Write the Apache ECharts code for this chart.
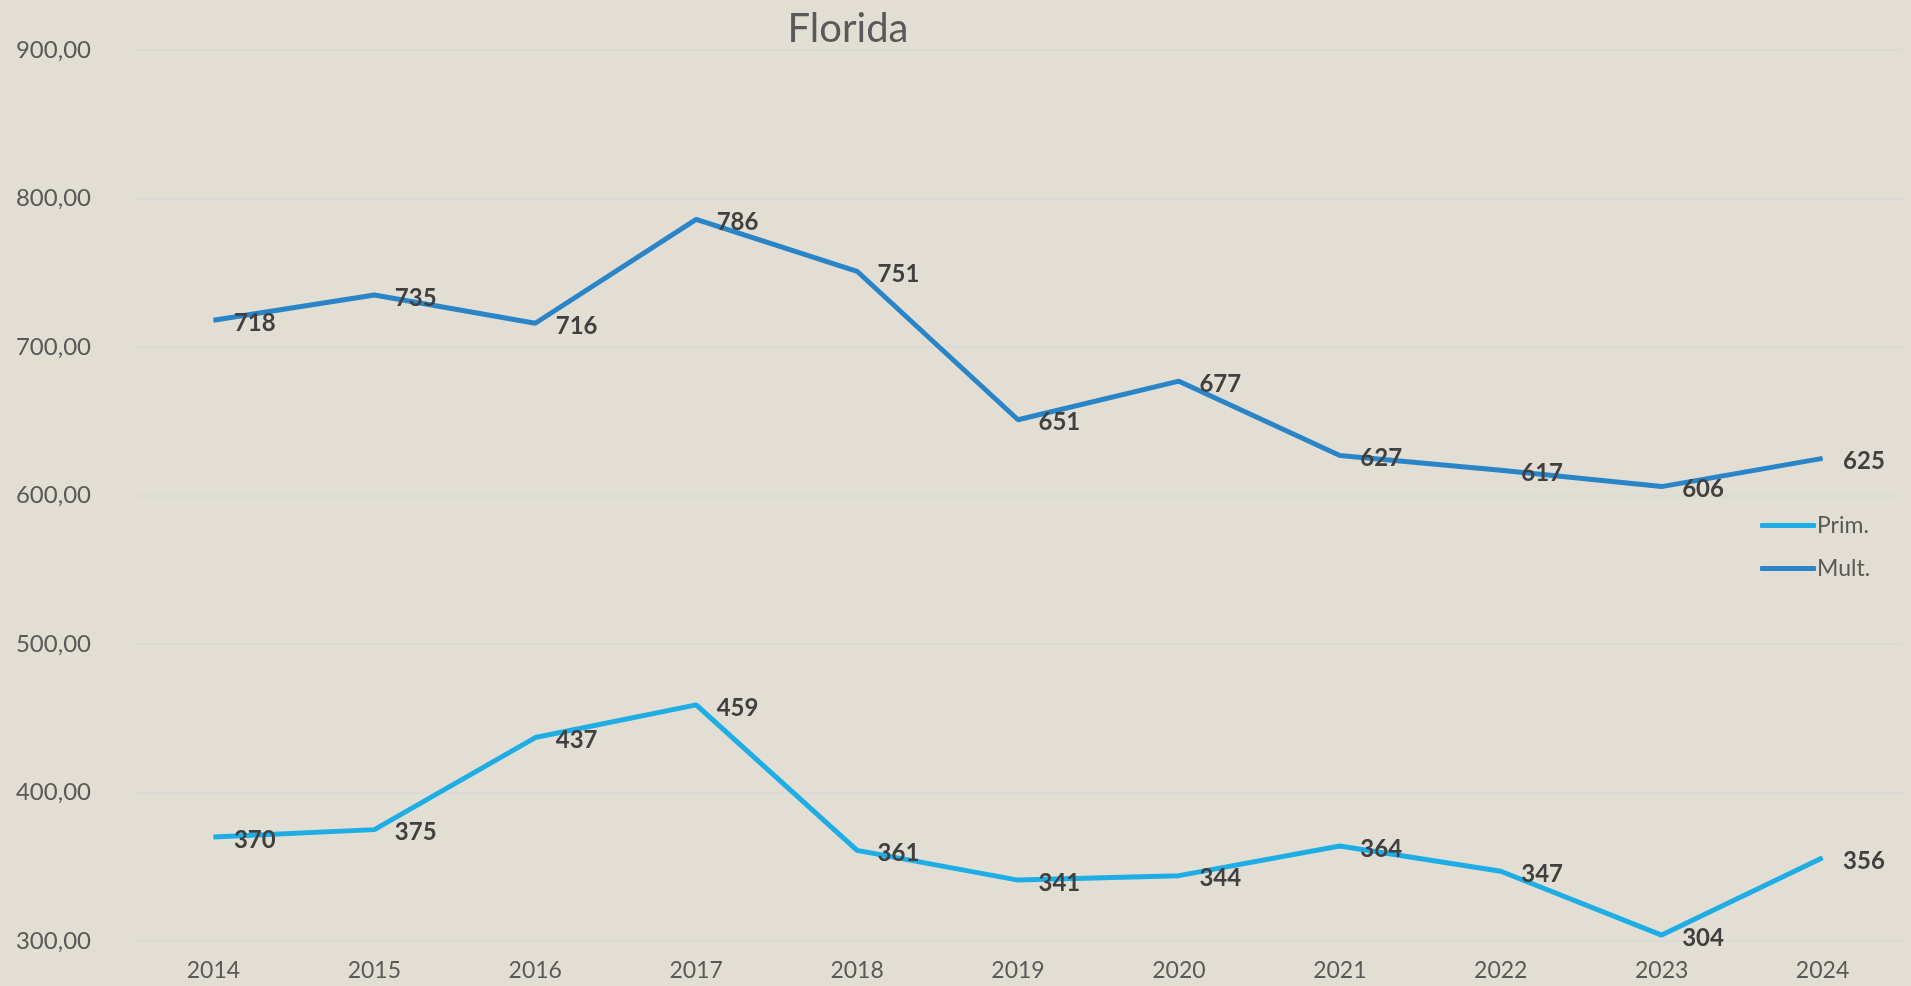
<!DOCTYPE html>
<html>
<head>
	<meta charset="utf-8">
	<title>Florida</title>
	<style>
		html, body {
			margin: 0;
			padding: 0;
			background-color: #e3ded3;
		}
		#chart {
			width: 1911px;
			height: 986px;
		}
	</style>
</head>
<body>
	<div id="chart"></div>
<script src="https://cdn.jsdelivr.net/npm/echarts@6/dist/echarts.min.js"></script>
<script>
	// data
	var years = ['2014', '2015', '2016', '2017', '2018', '2019', '2020', '2021', '2022', '2023', '2024'];
	var prim = [370, 375, 437, 459, 361, 341, 344, 364, 347, 304, 356];
	var mult = [718, 735, 716, 786, 751, 651, 677, 627, 617, 606, 625];
	var yTicks = [300, 400, 500, 600, 700, 800, 900];

	var font = 'Lato, "Noto Sans", sans-serif';

	function makeSeries(name, data, color) {
		return {
			name: name,
			type: 'line',
			data: data,
			symbol: 'circle',
			symbolSize: 1,
			lineStyle: { width: 5, color: color },
			itemStyle: { color: color },
			label: {
				show: true,
				position: 'right',
				distance: 20,
				offset: [0, 3],
				fontFamily: font,
				fontWeight: 'bold',
				fontSize: 24,
				color: '#404040'
			}
		};
	}

	var myChart = echarts.init(document.getElementById('chart'));
	var option = {
		backgroundColor: '#e3ded3',
		title: {
			text: 'Florida',
			left: 843,
			top: 4,
			textAlign: 'center',
			textStyle: {
				fontFamily: font,
				fontWeight: 'normal',
				fontSize: 40,
				color: '#595959'
			}
		},
		legend: {
			orient: 'vertical',
			left: 1755,
			top: 509,
			itemWidth: 56,
			itemHeight: 5,
			itemGap: 20,
			icon: 'roundRect',
			data: ['Prim.', 'Mult.'],
			textStyle: {
				fontFamily: font,
				fontSize: 23,
				color: '#595959',
				padding: [0, 0, 0, -4]
			}
		},
		grid: {
			left: 133,
			right: 8,
			top: 50,
			bottom: 45
		},
		xAxis: {
			type: 'category',
			data: years,
			boundaryGap: true,
			axisLine: { show: false },
			axisTick: { show: false },
			axisLabel: {
				margin: 18,
				fontFamily: font,
				fontSize: 23,
				color: '#595959'
			}
		},
		yAxis: {
			type: 'value',
			min: yTicks[0],
			max: yTicks[yTicks.length - 1],
			interval: 100,
			splitLine: { lineStyle: { color: '#d8d8d8', width: 1.5 } },
			axisLabel: {
				margin: 42,
				fontFamily: font,
				fontSize: 24,
				color: '#595959',
				formatter: function (v) { return v.toFixed(2).replace('.', ','); }
			}
		},
		series: [
			makeSeries('Prim.', prim, '#1eade4'),
			makeSeries('Mult.', mult, '#2a85c8')
		]
	};
	myChart.setOption(option);
</script>
</body>
</html>
